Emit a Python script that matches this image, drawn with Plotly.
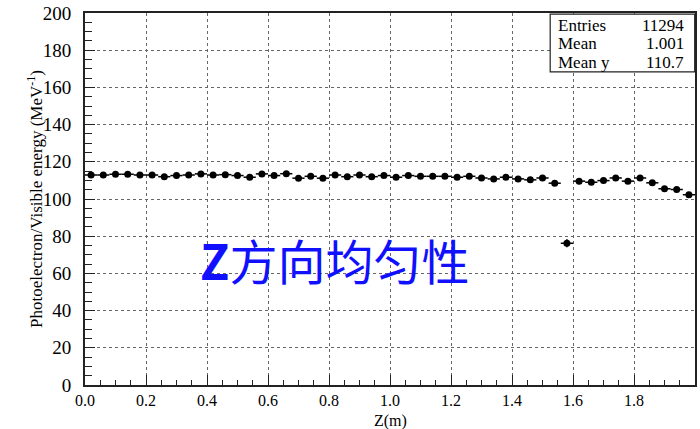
import numpy as np
import plotly.graph_objects as go

# Profile of photoelectron yield per visible energy along Z (50 bins, 0-2 m)
bin_width = 0.04
z_centers = [round(0.02 + bin_width * i, 2) for i in range(50)]
pe_per_mev = [
    112.9, 112.9, 113.3, 113.3, 112.9, 112.9, 112.0, 112.6, 112.9, 113.5,
    112.9, 113.1, 112.6, 111.7, 113.5, 112.6, 113.6, 111.2, 112.2, 111.2,
    112.9, 112.0, 112.9, 112.0, 112.6, 111.7, 112.6, 112.2, 112.2, 112.2,
    111.7, 112.2, 111.3, 110.8, 111.7, 110.8, 110.3, 111.3, 108.5, 76.2,
    109.6, 109.0, 109.9, 111.3, 109.6, 111.3, 108.7, 105.5, 105.1, 102.3,
]
pe_err = [0.6] * 39 + [2.2] + [0.8] * 7 + [1.0] * 3

x_tick_vals = [0.0, 0.2, 0.4, 0.6, 0.8, 1.0, 1.2, 1.4, 1.6, 1.8]
x_tick_text = ["0.0", "0.2", "0.4", "0.6", "0.8", "1.0", "1.2", "1.4", "1.6", "1.8"]
y_tick_vals = [0, 20, 40, 60, 80, 100, 120, 140, 160, 180, 200]

stats_labels = ["Entries", "Mean", "Mean y"]
stats_values = ["11294", "1.001", "110.7"]

title_text = "<b>Z</b>方向均匀性"

serif = "Liberation Serif"

fig = go.Figure()
fig.add_trace(go.Scatter(
    x=z_centers,
    y=pe_per_mev,
    mode="markers",
    marker=dict(color="black", size=7, symbol="circle"),
    error_x=dict(type="constant", value=bin_width / 2, width=0,
                 thickness=1.5, color="black"),
    error_y=dict(type="data", array=pe_err, width=0,
                 thickness=1.5, color="black"),
    showlegend=False,
    cliponaxis=False,
))

axis_common = dict(
    showline=True, linecolor="#222", linewidth=1.8, mirror=True,
    showgrid=True, gridcolor="#666", gridwidth=1, griddash="dot",
    ticks="inside", tickcolor="#222", tickwidth=1.2, ticklen=10,
    zeroline=False,
)

fig.update_xaxes(
    range=[0, 2.0],
    tickvals=x_tick_vals, ticktext=x_tick_text,
    tickfont=dict(family=serif, size=16, color="black"),
    minor=dict(dtick=0.05, tick0=0, ticks="inside", ticklen=5,
               tickcolor="#222", showgrid=False),
    **axis_common,
)
fig.update_yaxes(
    range=[0, 200],
    tickvals=y_tick_vals,
    tickfont=dict(family=serif, size=19, color="black"),
    minor=dict(dtick=5, tick0=0, ticks="inside", ticklen=7,
               tickcolor="#222", showgrid=False),
    ticklabelstandoff=8,
    **axis_common,
)

# X-axis title
fig.add_annotation(
    text="Z(m)",
    xref="paper", yref="paper", x=0.5, y=-0.125,
    showarrow=False, xanchor="center", yanchor="bottom",
    font=dict(family=serif, size=16, color="black"),
)

# Y-axis title
fig.add_annotation(
    text="Photoelectron/Visible energy (MeV<sup>-1</sup>)",
    xref="paper", yref="paper", x=-0.082, y=0.50,
    textangle=-90, showarrow=False, xanchor="center", yanchor="middle",
    font=dict(family=serif, size=17, color="black"),
)

# Blue caption inside the frame
fig.add_annotation(
    text=title_text,
    xref="x", yref="y", x=0.818, y=68,
    showarrow=False, xanchor="center", yanchor="middle",
    font=dict(family="Noto Sans CJK SC, Liberation Sans, sans-serif",
              size=48, color="#1010ff"),
)

# Statistics box
fig.add_shape(
    type="rect", xref="paper", yref="paper",
    x0=0.7626, x1=0.9995, y0=0.842, y1=0.997,
    line=dict(color="#222", width=1.2), fillcolor="white", layer="above",
)
row_y = [0.9654, 0.9168, 0.8680]
for label, value, yy in zip(stats_labels, stats_values, row_y):
    fig.add_annotation(text=label, xref="paper", yref="paper", x=0.7729, y=yy,
                       showarrow=False, xanchor="left", yanchor="middle",
                       font=dict(family=serif, size=17, color="black"))
    fig.add_annotation(text=value, xref="paper", yref="paper", x=0.9853, y=yy,
                       showarrow=False, xanchor="right", yanchor="middle",
                       font=dict(family=serif, size=17, color="black"))

fig.update_layout(
    width=700, height=429,
    margin=dict(l=85, r=3, t=11, b=44),
    paper_bgcolor="white", plot_bgcolor="white",
)

fig.write_html("out.html")
